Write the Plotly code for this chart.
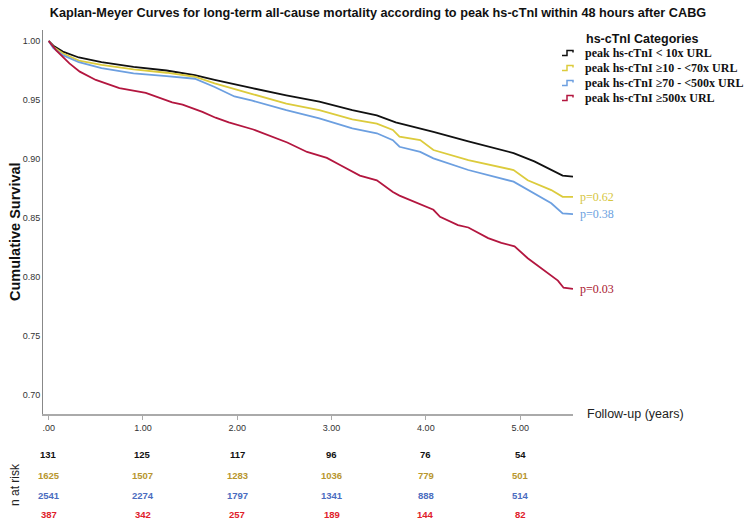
import plotly.graph_objects as go

# ---------------- data ----------------
group_names = ["peak hs-cTnI &lt; 10x URL", "peak hs-cTnI ≥10 - &lt;70x URL",
               "peak hs-cTnI ≥70 - &lt;500x URL", "peak hs-cTnI ≥500x URL"]

t_black = [0, 0.05, 0.15, 0.32, 0.56, 0.9, 1.25, 1.55, 1.76, 1.97, 2.16, 2.52, 2.87, 3.22,
           3.48, 3.68, 3.94, 4.08, 4.45, 4.93, 5.15, 5.33, 5.45, 5.56]
s_black = [1.0, 0.996, 0.991, 0.986, 0.982, 0.978, 0.975, 0.971, 0.967, 0.9636, 0.960, 0.954,
           0.9486, 0.9415, 0.937, 0.931, 0.926, 0.923, 0.915, 0.905, 0.898, 0.891, 0.886, 0.885]

t_yellow = [0, 0.05, 0.15, 0.32, 0.56, 0.9, 1.25, 1.55, 1.76, 1.97, 2.16, 2.52, 2.87, 3.22,
            3.48, 3.65, 3.72, 3.94, 4.08, 4.45, 4.93, 5.08, 5.33, 5.45, 5.56]
s_yellow = [1.0, 0.995, 0.9896, 0.9833, 0.9797, 0.976, 0.9731, 0.9697, 0.9641, 0.959, 0.955,
            0.947, 0.9415, 0.9336, 0.930, 0.9246, 0.919, 0.916, 0.9076, 0.899, 0.8907, 0.882,
            0.8737, 0.868, 0.868]

t_blue = [0, 0.05, 0.15, 0.32, 0.56, 0.9, 1.25, 1.55, 1.76, 1.97, 2.16, 2.52, 2.87, 3.22,
          3.48, 3.65, 3.72, 3.94, 4.08, 4.45, 4.93, 5.08, 5.33, 5.45, 5.56]
s_blue = [1.0, 0.994, 0.988, 0.982, 0.977, 0.9726, 0.9703, 0.968, 0.961, 0.953, 0.9494,
          0.9415, 0.9345, 0.926, 0.9218, 0.916, 0.9104, 0.906, 0.9006, 0.8907, 0.8808, 0.8737,
          0.8625, 0.854, 0.8534]

t_red = [0, 0.08, 0.22, 0.33, 0.5, 0.75, 1.03, 1.31, 1.42, 1.63, 1.77, 1.91, 2.17, 2.53, 2.74,
         2.95, 3.09, 3.30, 3.48, 3.58, 3.65, 3.72, 3.94, 4.08, 4.15, 4.34, 4.45, 4.66, 4.80,
         4.94, 5.08, 5.22, 5.40, 5.46, 5.56]
s_red = [1.0, 0.992, 0.981, 0.974, 0.967, 0.960, 0.956, 0.948, 0.946, 0.940, 0.935, 0.931,
         0.925, 0.914, 0.906, 0.901, 0.895, 0.886, 0.882, 0.876, 0.872, 0.869, 0.862, 0.857,
         0.851, 0.844, 0.842, 0.833, 0.829, 0.826, 0.816, 0.808, 0.797, 0.791, 0.790]

p_values = [None, "p=0.62", "p=0.38", "p=0.03"]

tick_vals = [0, 1, 2, 3, 4, 5]
tick_text = [".00", "1.00", "2.00", "3.00", "4.00", "5.00"]
ytick_vals = [0.70, 0.75, 0.80, 0.85, 0.90, 0.95, 1.00]
ytick_text = ["0.70", "0.75", "0.80", "0.85", "0.90", "0.95", "1.00"]

risk_times = [0, 1, 2, 3, 4, 5]
n_risk_black = [131, 125, 117, 96, 76, 54]
n_risk_yellow = [1625, 1507, 1283, 1036, 779, 501]
n_risk_blue = [2541, 2274, 1797, 1341, 888, 514]
n_risk_red = [387, 342, 257, 189, 144, 82]

# ---------------- styles / layout geometry ----------------
line_colors = ["#111111", "#dccb3c", "#6c9fe0", "#b3163f"]
p_colors = [None, "#d6c63e", "#6c9fe0", "#a8152e"]
risk_colors = ["#111111", "#b8962e", "#4a6cc0", "#e0202a"]

W, H = 750, 519
ML, MR, MT, MB = 43, 177, 30, 105
PW = W - ML - MR
PH = H - MT - MB


def px_x(px):  # page pixel -> paper x
    return (px - ML) / PW


def px_y(py):  # page pixel -> paper y
    return (H - MB - py) / PH


times = [t_black, t_yellow, t_blue, t_red]
survs = [s_black, s_yellow, s_blue, s_red]
risks = [n_risk_black, n_risk_yellow, n_risk_blue, n_risk_red]

fig = go.Figure()
for name, t, s, c in zip(group_names, times, survs, line_colors):
    fig.add_trace(go.Scatter(x=t, y=s, mode="lines", name=name, showlegend=False,
                             line=dict(color=c, width=1.8)))

annotations = []
shapes = []
# p-values at curve ends
for t, s, p, c in zip(times, survs, p_values, p_colors):
    if p:
        annotations.append(dict(x=t[-1], y=s[-1], xref="x", yref="y", text=p,
                                showarrow=False, xanchor="left", yanchor="middle",
                                xshift=5, font=dict(family="Liberation Serif", size=12, color=c)))

# n at risk table
row_y = [454, 475, 495, 514.5]
for r, c, py in zip(risks, risk_colors, row_y):
    for tt, n in zip(risk_times, r):
        annotations.append(dict(x=tt, y=px_y(py), xref="x", yref="paper", text="<b>%d</b>" % n,
                                showarrow=False, xanchor="center", yanchor="middle",
                                font=dict(family="Liberation Sans", size=9.5, color=c)))

annotations.append(dict(x=px_x(15), y=px_y(485), xref="paper", yref="paper", text="n at risk",
                        textangle=-90, showarrow=False, xanchor="center", yanchor="middle",
                        font=dict(family="Liberation Sans", size=12, color="#222")))
annotations.append(dict(x=px_x(15), y=px_y(232), xref="paper", yref="paper",
                        text="<b>Cumulative Survival</b>", textangle=-90, showarrow=False,
                        xanchor="center", yanchor="middle",
                        font=dict(family="Liberation Sans", size=14.5, color="#111")))
annotations.append(dict(x=px_x(585), y=px_y(414), xref="paper", yref="paper",
                        text="Follow-up (years)", showarrow=False, xanchor="left", yanchor="middle",
                        font=dict(family="Liberation Sans", size=12.5, color="#222")))

# legend (drawn manually to match the compact layout)
annotations.append(dict(x=px_x(584), y=px_y(39), xref="paper", yref="paper",
                        text="<b>hs-cTnI Categories</b>", showarrow=False, xanchor="left",
                        yanchor="middle", font=dict(family="Liberation Sans", size=12.5, color="#111")))
legend_y = [53, 68, 83, 98]
for name, c, ly in zip(group_names, line_colors, legend_y):
    annotations.append(dict(x=px_x(583), y=px_y(ly), xref="paper", yref="paper",
                            text="<b>%s</b>" % name, showarrow=False, xanchor="left",
                            yanchor="middle",
                            font=dict(family="Liberation Serif", size=12, color="#111")))
    x0, x1, x2 = px_x(562), px_x(567), px_x(573)
    yl, yh, ym = px_y(ly + 2.5), px_y(ly - 2.5), px_y(ly - 0.5)
    shapes.append(dict(type="path", xref="paper", yref="paper",
                       path="M %f,%f L %f,%f L %f,%f L %f,%f L %f,%f" % (x0, yl, x1, yl, x1, yh, x2, yh, x2, ym),
                       line=dict(color=c, width=1.5)))

fig.update_layout(
    width=W, height=H,
    margin=dict(l=ML, r=MR, t=MT, b=MB, autoexpand=False),
    paper_bgcolor="white", plot_bgcolor="white",
    title=dict(text="<b>Kaplan-Meyer Curves for long-term all-cause mortality according to peak hs-cTnI within 48 hours after CABG</b>",
               x=378 / W, xanchor="center", y=1 - 13 / H, yanchor="middle",
               font=dict(family="Liberation Sans", size=12.7, color="#111")),
    xaxis=dict(range=[-0.06, 5.56], tickvals=tick_vals, ticktext=tick_text, showgrid=False,
               zeroline=False, showline=True, linecolor="#aaaaaa", linewidth=1.5,
               ticks="outside", ticklen=4, tickcolor="#aaaaaa",
               tickfont=dict(family="Liberation Sans", size=9, color="#333")),
    yaxis=dict(range=[0.684, 1.0093], tickvals=ytick_vals, ticktext=ytick_text, showgrid=False,
               zeroline=False, showline=True, linecolor="#888888", linewidth=1, ticks="",
               tickfont=dict(family="Liberation Sans", size=9, color="#333")),
    annotations=annotations,
    shapes=shapes,
    showlegend=False,
)
# remove the browser's default 8px body margin so the figure fills the window exactly
fig.write_html("out.html", config={"displayModeBar": False},
               post_script="document.body.style.margin='0px';")
